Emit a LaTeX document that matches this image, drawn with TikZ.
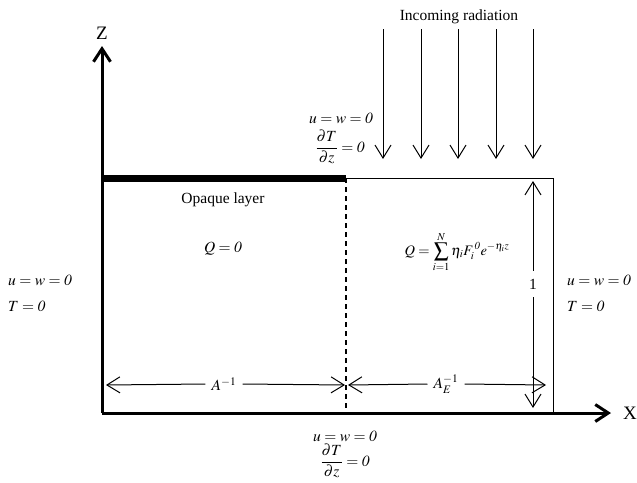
\documentclass[tikz,border=0pt]{standalone}
\usepackage{amsmath}
\usepackage{mathptmx}
\usepackage{fontspec}
\setmainfont{Liberation Serif}
\usetikzlibrary{arrows.meta}
\tikzset{
  lbl/.style={inner sep=1pt, font=\fontsize{15.5}{18}\selectfont},
  axis/.style={line width=3pt, -{Straight Barb[length=13pt,width=17pt,line width=3pt]}},
  thinarrow/.style={line width=1pt, -{Straight Barb[length=13pt,width=16pt,line width=1pt]}},
  bound/.style={line width=1pt}
}
\begin{document}
\begin{tikzpicture}[x=1pt,y=-1pt]
\useasboundingbox (0,0) rectangle (637,482);
% key points
\coordinate (O) at (102,413);
\coordinate (Ztip) at (102,46);
\coordinate (Xtip) at (611,413);
\coordinate (TL) at (102,178);
\coordinate (TM) at (346,178);
\coordinate (TR) at (553,178);
\coordinate (BM) at (346,413);
\coordinate (BR) at (553,413);
% axes
\draw[axis] (O) -- (Ztip);
\draw[axis] (O) -- (Xtip);
\node[font=\fontsize{19}{22}\selectfont, inner sep=0pt] (zl) at (102,33) {Z};
\node[font=\fontsize{19}{22}\selectfont, inner sep=0pt] (xl) at (630,413) {X};
% boundaries
\draw[line width=7pt] (TL) -- (TM);
\draw[bound] (TM) -- (TR) -- (BR);
\draw[line width=1.5pt, dash pattern=on 5pt off 4pt] (TM) -- (BM);
% radiation
\node[lbl] (inc) at (459,17) {Incoming radiation};
\foreach \x [count=\i] in {383,421,458,496,533}{
  \coordinate (r\i a) at (\x,29);
  \coordinate (r\i b) at (\x,159);
  \draw[thinarrow] (r\i a) -- (r\i b);
}
% top BC
\node[lbl] (tbc1) at (341,118) {$u = w = \mathit{0}$};
\node[lbl] (tbc2) at (340,147) {$\dfrac{\partial T}{\partial z} = \mathit{0}$};
% left BC
\node[lbl, anchor=west] (lbc1) at (7,280) {$u = w = \mathit{0}$};
\node[lbl, anchor=west] (lbc2) at (7,306) {$T = \mathit{0}$};
% right BC
\node[lbl, anchor=west] (rbc1) at (566,280) {$u = w = \mathit{0}$};
\node[lbl, anchor=west] (rbc2) at (566,306) {$T = \mathit{0}$};
% bottom BC
\node[lbl] (bbc1) at (345,436) {$u = w = \mathit{0}$};
\node[lbl] (bbc2) at (345,461) {$\dfrac{\partial T}{\partial z} = \mathit{0}$};
% interior
\node[lbl] (opq) at (223,200) {Opaque layer};
\node[lbl] (q0) at (223,249) {$Q = \mathit{0}$};
\node[lbl, font=\fontsize{14.5}{17}\selectfont] (qf) at (457,252) {$Q = \displaystyle\sum_{i=1}^{N} \eta_i F_i^{\,\mathit{0}} e^{-\eta_i z}$};
% dimension arrows
\coordinate (d1a) at (106,385);
\coordinate (d1b) at (345,385);
\node[lbl, fill=white, inner xsep=6pt] (dA) at (224,384) {$A^{-1}$};
\draw[thinarrow] (dA.west) -- (d1a);
\draw[thinarrow] (dA.east) -- (d1b);
\coordinate (d2a) at (348,385);
\coordinate (d2b) at (546,385);
\node[lbl, fill=white, inner xsep=6pt] (dAE) at (446,384) {$A_E^{-1}$};
\draw[thinarrow] (dAE.west) -- (d2a);
\draw[thinarrow] (dAE.east) -- (d2b);
% vertical unit arrow
\coordinate (v1) at (533,181);
\coordinate (v2) at (533,408);
\node[lbl, fill=white, inner ysep=8pt] (one) at (533,284) {1};
\draw[thinarrow] (one.north) -- (v1);
\draw[thinarrow] (one.south) -- (v2);
\end{tikzpicture}
\end{document}
